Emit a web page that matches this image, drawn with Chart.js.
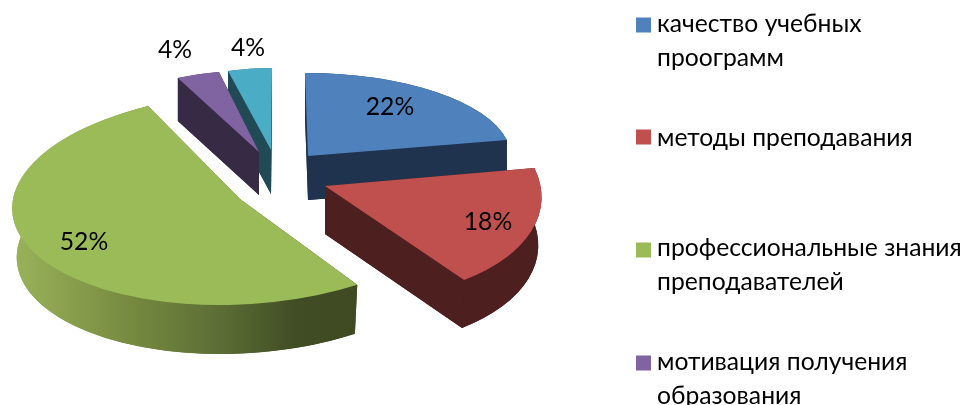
<!DOCTYPE html>
<html><head><meta charset="utf-8">
<style>html,body{margin:0;padding:0;background:#fff}canvas{display:block}</style>
<script src="https://cdn.jsdelivr.net/npm/chart.js@4/dist/chart.umd.min.js"></script>
</head><body>
<canvas id="c" width="966" height="405"></canvas>
<script>
const categories = ["качество учебных проограмм","методы преподавания","профессиональные знания преподавателей","мотивация получения образования",""];
const shares = [22,18,52,4,4];
const topColors = ["#4F81BD","#C0504D","#9BBB59","#8064A2","#4BACC6"];
const wallColors = ["#1F334F","#4D1F1E",null,"#362A45","#1F4A56"];
const drawOrder = [4,3,0,2,1];
// per-slice projection of the flat pie: [apexX, apexY, a, c, e, d, wall thickness, bottom x-scale]
const projection = [
  [308,156,203,-0.5,3,83,44,1],
  [325,186,216,3.3,15,113.8,48,0.985],
  [240,199,227,0,-20,106,49,0.98],
  [259,152,175,6.4,-3.6,81,43,1],
  [271,150,176.6,-1.8,-1,82,44,1]
];
const labelPos = [[390,107],[488,222],[84,242],[175,50],[248,48]];
const legendLines = [["качество учебных","проограмм"],["методы преподавания"],["профессиональные знания","преподавателей"],["мотивация получения","образования"]];
const legendLineY = [[24,58],[138],[248,282],[362,396]];
const legendMarkY = [25,137,250,363];
const FONT = 'Lato, "Open Sans", sans-serif';

const pie3d = {
  id:'pie3d',
  beforeDatasetsDraw(chart){
    const ctx = chart.ctx, arcs = chart.getDatasetMeta(0).data;
    drawOrder.forEach(i=>{
      const el = arcs[i], [ax,ay,a,c,e,d,t,sx] = projection[i], R = el.outerRadius;
      const x0 = el.x, y0 = el.y, s = el.startAngle, f = el.endAngle;
      const place = (low,fn)=>{
        ctx.save();
        const k = low ? sx : 1;
        ctx.transform(k*a/R,c/R,k*e/R,d/R,ax,ay+(low?t:0));
        ctx.translate(-x0,-y0);
        fn();
        ctx.restore();
      };
      const at = ang=>[x0+R*Math.cos(ang),y0+R*Math.sin(ang)];
      let wall = wallColors[i];
      if(!wall){
        wall = ctx.createLinearGradient(12,0,357,0);
        wall.addColorStop(0,"#9AB35A");
        wall.addColorStop(0.35,"#76893F");
        wall.addColorStop(0.6,"#5C6E35");
        wall.addColorStop(0.82,"#414D24");
        wall.addColorStop(1,"#3F4A22");
      }
      ctx.fillStyle = wall;
      // floor of the slice
      ctx.beginPath();
      place(true,()=>{ctx.moveTo(x0,y0);ctx.arc(x0,y0,R,s,f);ctx.closePath();});
      ctx.fill();
      // rim
      ctx.beginPath();
      place(false,()=>ctx.arc(x0,y0,R,s,f));
      place(true,()=>ctx.arc(x0,y0,R,f,s,true));
      ctx.closePath();
      ctx.fill();
      // cut faces
      [s,f].forEach(ang=>{
        const p = at(ang);
        ctx.beginPath();
        place(false,()=>{ctx.moveTo(x0,y0);ctx.lineTo(p[0],p[1]);});
        place(true,()=>{ctx.lineTo(p[0],p[1]);ctx.lineTo(x0,y0);});
        ctx.closePath();
        ctx.fill();
      });
      place(false,()=>el.draw(ctx));
    });
    return false;
  },
  afterDraw(chart){
    const ctx = chart.ctx;
    ctx.save();
    ctx.fillStyle = "#000";
    ctx.textBaseline = "middle";
    ctx.textAlign = "center";
    ctx.font = "24.7px "+FONT;
    shares.forEach((v,i)=>ctx.fillText(v+"%",labelPos[i][0],labelPos[i][1]));
    ctx.textAlign = "left";
    legendLines.forEach((lines,i)=>{
      ctx.fillStyle = topColors[i];
      ctx.fillRect(636,legendMarkY[i]-7.5,15,15);
      ctx.fillStyle = "#000";
      lines.forEach((t,j)=>ctx.fillText(t,657,legendLineY[i][j]));
    });
    ctx.restore();
  }
};

new Chart(document.getElementById('c'),{
  type:'pie',
  data:{labels:categories,datasets:[{data:shares,backgroundColor:topColors,borderWidth:0}]},
  options:{
    responsive:false,animation:false,rotation:0,
    plugins:{legend:{display:false},tooltip:{enabled:false},title:{display:false}}
  },
  plugins:[pie3d]
});
</script>
</body></html>
